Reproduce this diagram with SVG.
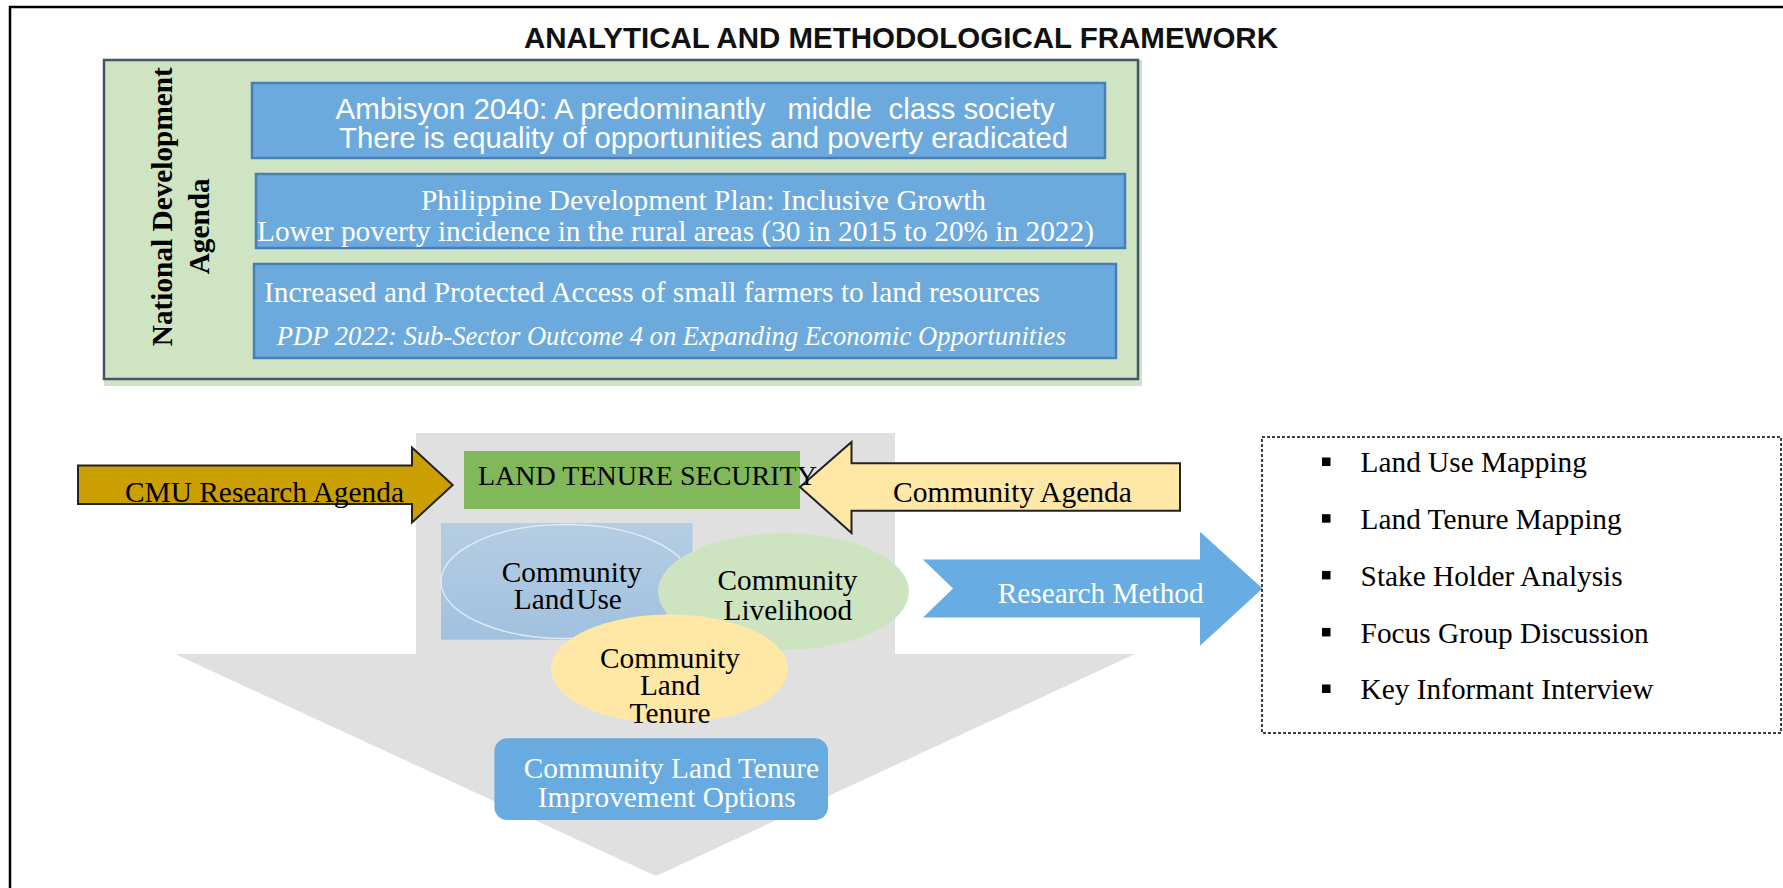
<svg xmlns="http://www.w3.org/2000/svg" width="1783" height="888" viewBox="0 0 1783 888">
  <defs>
    <style>
      .sans { font-family: "Liberation Sans", Arial, sans-serif; }
      .serif { font-family: "Liberation Serif", "Times New Roman", serif; }
      .t29 { font-size: 29.3px; }
      .white { fill: #ffffff; }
      .black { fill: #000000; }
      .agenda-box { fill: #6caadd; stroke: #4a7ebb; stroke-width: 2.5; }
      .bullet { fill: #000000; }
    </style>
    <linearGradient id="landUseFill" x1="0" y1="0" x2="0" y2="1">
      <stop offset="0" stop-color="#b5cde3"/>
      <stop offset="1" stop-color="#a1c1df"/>
    </linearGradient>
  </defs>

  <rect x="0" y="0" width="1783" height="888" fill="#ffffff"/>

  <!-- page frame (open on the right and bottom) -->
  <path d="M 10 888 V 7 H 1783" fill="none" stroke="#000000" stroke-width="2.5"/>

  <!-- title -->
  <text id="title" class="sans" x="524" y="48" font-size="29.3" font-weight="bold" textLength="754" lengthAdjust="spacingAndGlyphs" fill="#111111">ANALYTICAL AND METHODOLOGICAL FRAMEWORK</text>

  <!-- national development agenda panel -->
  <g id="national-agenda">
    <rect x="104" y="60" width="1038" height="326" fill="#cfe4c3"/>
    <rect x="104" y="60" width="1034" height="319" fill="none" stroke="#44546a" stroke-width="2.5"/>
    <text class="serif" font-size="29.3" font-weight="bold" fill="#000000" text-anchor="middle" transform="translate(172.3 206.7) rotate(-90)">National Development</text>
    <text class="serif" font-size="29.3" font-weight="bold" fill="#000000" text-anchor="middle" transform="translate(208.6 226.3) rotate(-90)">Agenda</text>
  </g>

  <g id="ambisyon">
    <rect class="agenda-box" x="252" y="83" width="853" height="75"/>
    <text class="sans t29 white" y="119.3"><tspan x="335.6" textLength="430" lengthAdjust="spacingAndGlyphs">Ambisyon 2040: A predominantly</tspan><tspan x="787.5" textLength="84.5" lengthAdjust="spacingAndGlyphs">middle</tspan><tspan x="888.6" textLength="166" lengthAdjust="spacingAndGlyphs">class society</tspan></text>
    <text class="sans t29 white" x="339" y="147.7" textLength="729" lengthAdjust="spacingAndGlyphs">There is equality of opportunities and poverty eradicated</text>
  </g>

  <g id="pdp">
    <rect class="agenda-box" x="256" y="174" width="869" height="74"/>
    <text class="serif t29 white" x="421" y="210" textLength="565" lengthAdjust="spacingAndGlyphs">Philippine Development Plan: Inclusive Growth</text>
    <text class="serif t29 white" x="257" y="241" textLength="837" lengthAdjust="spacingAndGlyphs">Lower poverty incidence in the rural areas (30 in 2015 to 20% in 2022)</text>
  </g>

  <g id="land-access">
    <rect class="agenda-box" x="254" y="264" width="862" height="94"/>
    <text class="serif t29 white" x="264" y="301.7" textLength="776" lengthAdjust="spacingAndGlyphs">Increased and Protected Access of small farmers to land resources</text>
    <text class="serif white" x="276.8" y="345" font-size="26.7" font-style="italic" textLength="789" lengthAdjust="spacingAndGlyphs">PDP 2022: Sub-Sector Outcome 4 on Expanding Economic Opportunities</text>
  </g>

  <!-- connectors: the large process arrows -->
  <g id="connectors">
    <polygon id="process-arrow" points="416,433 895,433 895,654 1135,654 656,876 175,654 416,654" fill="#e0e0e0"/>
    <polygon id="research-method-arrow" points="923,559.5 1200,559.5 1200,531.7 1262.5,588.5 1200,645.7 1200,617.5 923,617.5 953,588.5" fill="#67ace2"/>
  </g>

  <g id="land-tenure-security">
    <rect x="464" y="451" width="336" height="58" fill="#80b85a"/>
  </g>

  <g id="cmu-agenda">
    <polygon points="78,465.5 412,465.5 412,447.5 452.7,485 412,522.5 412,504 78,504" fill="#cc9f00" stroke="#222222" stroke-width="2"/>
    <text class="serif t29 black" x="125" y="501.7" textLength="279" lengthAdjust="spacingAndGlyphs">CMU Research Agenda</text>
  </g>

  <g id="community-agenda">
    <polygon points="800,487 851.5,442 851.5,463.3 1180,463.3 1180,510.7 851.5,510.7 851.5,533" fill="#ffe7a6" stroke="#222222" stroke-width="2"/>
    <text class="serif t29 black" x="893" y="501.7" textLength="239" lengthAdjust="spacingAndGlyphs">Community Agenda</text>
  </g>

  <text class="serif black" x="478" y="485" font-size="28" textLength="339" lengthAdjust="spacingAndGlyphs">LAND TENURE SECURITY</text>

  <g id="community-land-use">
    <rect x="441" y="523" width="251.5" height="116.7" fill="url(#landUseFill)"/>
    <ellipse cx="566" cy="581.5" rx="125" ry="57" fill="none" stroke="#dce8f4" stroke-width="1.5"/>
    <text class="serif t29 black" text-anchor="middle" x="571.7" y="581.7">Community</text>
    <text class="serif t29 black" text-anchor="middle" x="567.8" y="609.3" word-spacing="-5">Land Use</text>
  </g>

  <g id="community-livelihood">
    <ellipse cx="783.5" cy="591.5" rx="125.5" ry="58.5" fill="#cee4c1"/>
    <text class="serif t29 black" text-anchor="middle" x="787.5" y="590">Community</text>
    <text class="serif t29 black" text-anchor="middle" x="787.8" y="620">Livelihood</text>
  </g>

  <g id="community-land-tenure">
    <ellipse cx="669.5" cy="669" rx="118.5" ry="54.5" fill="#ffe8a6"/>
    <text class="serif t29 black" text-anchor="middle" x="670" y="667.7">Community</text>
    <text class="serif t29 black" text-anchor="middle" x="670" y="695">Land</text>
    <text class="serif t29 black" text-anchor="middle" x="670" y="723.3">Tenure</text>
  </g>

  <g id="improvement-options">
    <rect x="494.4" y="738.3" width="333.6" height="81.7" rx="13" fill="#67abe1"/>
    <text class="serif t29 white" text-anchor="middle" x="671.4" y="778.3">Community Land Tenure</text>
    <text class="serif t29 white" text-anchor="middle" x="666.6" y="806.7">Improvement Options</text>
  </g>

  <text id="research-method-label" class="serif t29 white" x="997.7" y="602.7" textLength="206" lengthAdjust="spacingAndGlyphs">Research Method</text>

  <g id="methods">
    <rect x="1262" y="437" width="519" height="296" fill="none" stroke="#000000" stroke-width="1.5" stroke-dasharray="3 2"/>
    <rect class="bullet" x="1322" y="457.5" width="8.5" height="8.5"/>
    <rect class="bullet" x="1322" y="514.2" width="8.5" height="8.5"/>
    <rect class="bullet" x="1322" y="570.9" width="8.5" height="8.5"/>
    <rect class="bullet" x="1322" y="627.9" width="8.5" height="8.5"/>
    <rect class="bullet" x="1322" y="684.5" width="8.5" height="8.5"/>
    <text class="serif t29 black" x="1360.6" y="472.3">Land Use Mapping</text>
    <text class="serif t29 black" x="1360.6" y="529">Land Tenure Mapping</text>
    <text class="serif t29 black" x="1360.6" y="585.7">Stake Holder Analysis</text>
    <text class="serif t29 black" x="1360.6" y="642.7">Focus Group Discussion</text>
    <text class="serif t29 black" x="1360.6" y="699.3">Key Informant Interview</text>
  </g>
</svg>
